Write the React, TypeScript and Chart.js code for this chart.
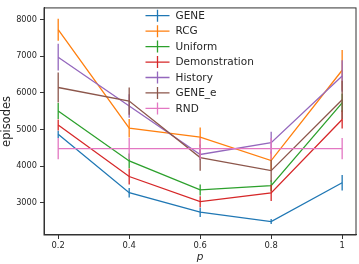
import React, { useEffect, useRef } from 'react';
import { Chart, registerables } from 'chart.js';

Chart.register(...registerables);

const pValues = [0.2, 0.4, 0.6, 0.8, 1];
const xTickLabels = ['0.2', '0.4', '0.6', '0.8', '1'];
const yTickValues = [3000, 4000, 5000, 6000, 7000, 8000];

const seriesNames = ['GENE', 'RCG', 'Uniform', 'Demonstration', 'History', 'GENE_e', 'RND'];
const seriesColors = ['#1f77b4', '#ff7f0e', '#2ca02c', '#d62728', '#9467bd', '#8c564b', '#e377c2'];

const geneMean = [4870, 3280, 2750, 2495, 3550];
const geneErr = [100, 130, 130, 70, 210];
const rcgMean = [7720, 5035, 4795, 4155, 6615];
const rcgErr = [300, 250, 260, 250, 550];
const uniformMean = [5505, 4145, 3355, 3470, 5725];
const uniformErr = [220, 200, 150, 150, 250];
const demoMean = [5125, 3720, 3035, 3275, 5275];
const demoErr = [150, 220, 150, 220, 250];
const historyMean = [6970, 5640, 4320, 4640, 6460];
const historyErr = [365, 320, 150, 300, 430];
const geneEMean = [6145, 5775, 4235, 3880, 5810];
const geneEErr = [410, 370, 355, 300, 520];
const rndMean = [4480, 4480, 4480, 4480, 4480];
const rndErr = [290, 290, 290, 290, 290];

const allMeans = [geneMean, rcgMean, uniformMean, demoMean, historyMean, geneEMean, rndMean];
const allErrs = [geneErr, rcgErr, uniformErr, demoErr, historyErr, geneEErr, rndErr];

const FONT = "'DejaVu Sans', sans-serif";
const TEXT_COLOR = '#262626';
const LINE_W = 1.3;

const errorBarPlugin = {
  id: 'errorBars',
  afterDatasetDraw(chart: any, args: any) {
    const ds: any = chart.data.datasets[args.index];
    const meta = args.meta;
    const yScale = chart.scales.y;
    const ctx = chart.ctx;
    ctx.save();
    ctx.strokeStyle = ds.borderColor;
    ctx.lineWidth = ds.borderWidth;
    meta.data.forEach((pt: any, i: number) => {
      const m = ds.data[i].y;
      const e = ds.errors[i];
      ctx.beginPath();
      ctx.moveTo(pt.x, yScale.getPixelForValue(m - e));
      ctx.lineTo(pt.x, yScale.getPixelForValue(m + e));
      ctx.stroke();
    });
    ctx.restore();
  },
};

const framePlugin = {
  id: 'frame',
  afterDraw(chart: any) {
    const { ctx, chartArea } = chart;
    ctx.save();
    ctx.strokeStyle = '#333';
    ctx.lineWidth = 1;
    ctx.strokeRect(chartArea.left, chartArea.top, chartArea.right - chartArea.left, chartArea.bottom - chartArea.top);
    ctx.restore();
  },
};

const legendPlugin = {
  id: 'customLegend',
  afterDraw(chart: any) {
    const { ctx, chartArea } = chart;
    const x0 = chartArea.left + 101.5;
    const handleLen = 24;
    const textX = x0 + handleLen + 6;
    const y0 = 15.7;
    const rowH = 15.45;
    ctx.save();
    ctx.font = `10.5px ${FONT}`;
    ctx.textBaseline = 'middle';
    ctx.textAlign = 'left';
    chart.data.datasets.forEach((ds: any, i: number) => {
      const y = y0 + i * rowH;
      ctx.strokeStyle = ds.borderColor;
      ctx.lineWidth = LINE_W;
      ctx.beginPath();
      ctx.moveTo(x0, y);
      ctx.lineTo(x0 + handleLen, y);
      ctx.moveTo(x0 + handleLen / 2, y - 6);
      ctx.lineTo(x0 + handleLen / 2, y + 6);
      ctx.stroke();
      ctx.fillStyle = TEXT_COLOR;
      ctx.fillText(ds.label, textX, y + 0.5);
    });
    ctx.restore();
  },
};

export default function App() {
  const canvasRef = useRef<HTMLCanvasElement | null>(null);

  useEffect(() => {
    document.body.style.margin = '0';
    const canvas = canvasRef.current;
    if (!canvas) return;

    const datasets = seriesNames.map((name, si) => ({
      label: name,
      data: pValues.map((p, i) => ({ x: p, y: allMeans[si][i] })),
      errors: allErrs[si],
      borderColor: seriesColors[si],
      backgroundColor: seriesColors[si],
      borderWidth: LINE_W,
      pointRadius: 0,
      tension: 0,
      fill: false,
      order: seriesNames.length - si,
    }));

    const chart = new Chart(canvas, {
      type: 'line',
      data: { datasets: datasets as any },
      options: {
        animation: false,
        responsive: false,
        devicePixelRatio: 1,
        layout: { padding: { left: 0, right: 3, top: 3, bottom: 0 } },
        plugins: {
          legend: { display: false },
          tooltip: { enabled: false },
        },
        scales: {
          x: {
            type: 'linear',
            min: 0.16,
            max: 1.039,
            afterBuildTicks: (scale: any) => {
              scale.ticks = pValues.map((v) => ({ value: v }));
            },
            afterFit: (scale: any) => {
              scale.height = 29;
            },
            ticks: {
              callback: (_v: any, idx: number) => xTickLabels[idx],
              font: { family: FONT, size: 8.4 },
              color: TEXT_COLOR,
              padding: 2,
              maxRotation: 0,
            },
            grid: { drawOnChartArea: false, drawTicks: true, tickLength: 4, tickColor: '#333' },
            border: { display: true, color: '#333', width: 1 },
            title: {
              display: true,
              text: 'p',
              font: { family: FONT, size: 10.5, style: 'italic' },
              color: TEXT_COLOR,
              padding: { top: 0, bottom: 0 },
            },
          },
          y: {
            type: 'linear',
            min: 2128,
            max: 8312,
            afterBuildTicks: (scale: any) => {
              scale.ticks = yTickValues.map((v) => ({ value: v }));
            },
            afterFit: (scale: any) => {
              scale.width = 44;
            },
            ticks: {
              callback: (v: any) => String(v),
              font: { family: FONT, size: 8.2 },
              color: TEXT_COLOR,
              padding: 3,
            },
            grid: { drawOnChartArea: false, drawTicks: true, tickLength: 4, tickColor: '#333' },
            border: { display: true, color: '#333', width: 1 },
            title: {
              display: true,
              text: 'episodes',
              font: { family: FONT, size: 11.5 },
              color: TEXT_COLOR,
              padding: { top: 0, bottom: 0 },
            },
          },
        },
      } as any,
      plugins: [errorBarPlugin, framePlugin, legendPlugin],
    });

    return () => {
      chart.destroy();
    };
  }, []);

  return (
    <div style={{ width: 359, height: 264 }}>
      <canvas ref={canvasRef} width={359} height={264} style={{ display: 'block' }} />
    </div>
  );
}
